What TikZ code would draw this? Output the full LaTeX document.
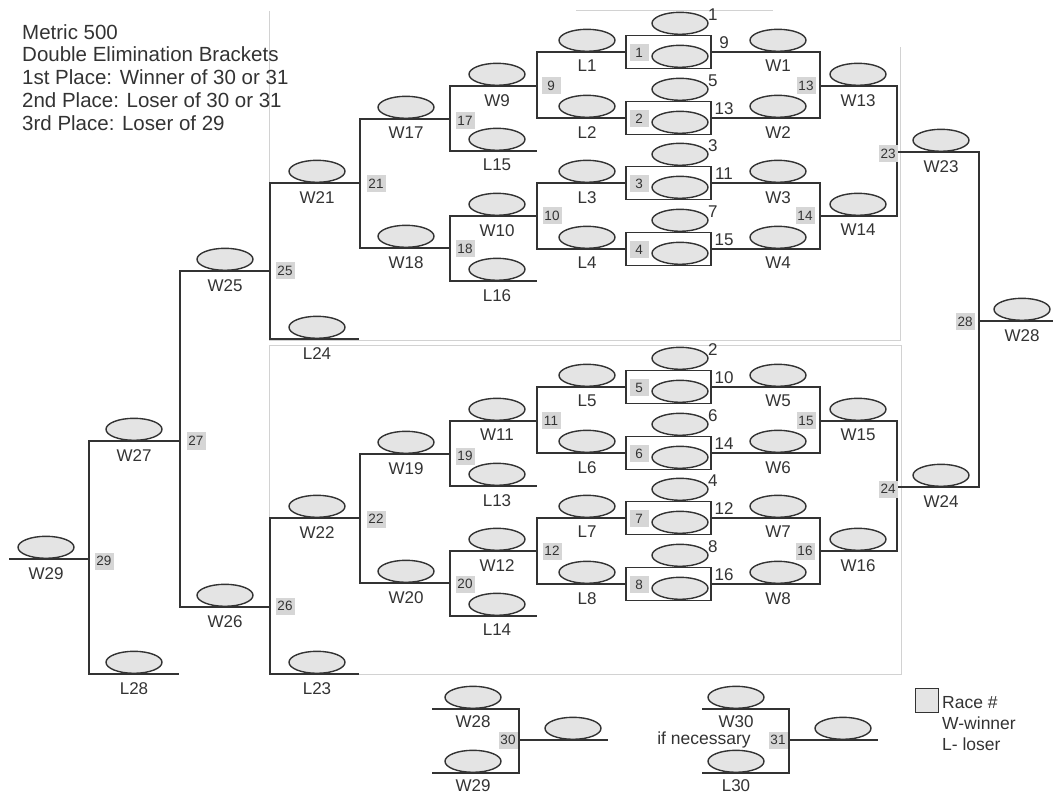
\documentclass[tikz,border=0pt]{standalone}
\usepackage{fontspec}
\setmainfont{Liberation Sans}
\usepackage {tikz}
\usetikzlibrary {positioning}
\usetikzlibrary{shapes.geometric}
\definecolor{ink}{HTML}{333333}
\definecolor{seatgray}{HTML}{E4E4E4}
\definecolor{racegray}{HTML}{D6D6D6}
\definecolor{framegray}{HTML}{D2D2D2}
\tikzset{bar/.style = {draw=ink, line width=1.8pt, line cap=rect}}
\newcommand{\seatline}[7][8]{%
  \coordinate (#2-w) at (#3,#6);
  \coordinate (#2-e) at (#4,#6);
  \draw[bar] (#2-w) -- (#2-e);
  \node[seat] (#2) at (#5,#6) {};
  \node[tag] (#2-t) at (#5,#6+#1) {#7};
}
\newcommand{\heatbox}[5]{%
  \node[heat] (#1) at (668.5,#2) {};
  \node[seat] (#1-in) at (680,#2+16) {};
  \node[seat] (#1-up) at (680,#2-17) {};
  \node[race] (#1-r) at (639,#2+0.5) {#3};
  \node[num, anchor=west] (#1-n) at (708,#2-37.5) {#4};
  \node[num] (#1-s) at (724,#2-9.5) {#5};
}

\begin{document}
\begin{tikzpicture}[x=1pt, y=-1pt,
    seat/.style={ellipse, draw=ink, fill=seatgray, line width=1.4pt, minimum width=56pt, minimum height=22pt, inner sep=0pt, anchor=south},
    tag/.style={anchor=north, inner sep=0pt, text=ink, font=\fontsize{17}{17}\selectfont},
    num/.style={inner sep=0pt, text=ink, font=\fontsize{17}{17}\selectfont},
    note/.style={inner sep=0pt, text=ink, font=\fontsize{17.5}{21}\selectfont},
    race/.style={fill=racegray, text=ink, inner sep=0pt, minimum width=19pt, minimum height=17pt, font=\fontsize{13.5}{13.5}\selectfont},
    heat/.style={draw=ink, line width=1.8pt, minimum width=85pt, minimum height=33pt, inner sep=0pt},
    frame/.style={draw=framegray, line width=0.8pt}]
            \useasboundingbox (0,0) rectangle (1053,794);
            \draw[frame] (269,11) -- (269,340) -- (900,340) -- (900,47);
            \draw[frame] (576,10) -- (773,10);
            \draw[frame] (269,345) rectangle (901,674);

            \node[anchor=north west, inner sep=0pt, align=left, text=ink, font=\fontsize{20.5}{22.9}\selectfont] (title) at (22,24)
                {Metric 500\\Double Elimination Brackets\\1st Place: Winner of 30 or 31\\2nd Place: Loser of 30 or 31\\3rd Place: Loser of 29};

            \seatline{L1}{537}{626}{587}{52}{L1}
            \seatline{L2}{537}{626}{587}{118}{L2}
            \seatline{L3}{537}{626}{587}{183}{L3}
            \seatline{L4}{537}{626}{587}{249}{L4}
            \seatline{W1}{711}{820}{778}{52}{W1}
            \seatline{W2}{711}{820}{778}{118}{W2}
            \seatline{W3}{711}{820}{778}{183}{W3}
            \seatline{W4}{711}{820}{778}{249}{W4}
            \seatline{W13}{820}{897}{858}{86}{W13}
            \seatline{W14}{820}{897}{858}{216}{W14}
            \seatline{W23}{897}{979}{941}{152}{W23}
            \seatline{W9}{450}{537}{497}{86}{W9}
            \seatline{L15}{450}{536}{497}{151}{L15}
            \seatline{W10}{450}{537}{497}{216}{W10}
            \seatline{L16}{450}{536}{497}{281}{L16}
            \seatline{W17}{360}{450}{406}{119}{W17}
            \seatline{W18}{360}{450}{406}{248}{W18}
            \seatline{W21}{270}{360}{317}{183}{W21}
            \seatline{L24}{270}{358}{317}{339}{L24}
            \seatline{W25}{180}{270}{225}{271}{W25}

            \seatline{L5}{537}{626}{587}{387}{L5}
            \seatline{L6}{537}{626}{587}{453}{L6}
            \seatline{L7}{537}{626}{587}{518}{L7}
            \seatline{L8}{537}{626}{587}{584}{L8}
            \seatline{W5}{711}{820}{778}{387}{W5}
            \seatline{W6}{711}{820}{778}{453}{W6}
            \seatline{W7}{711}{820}{778}{518}{W7}
            \seatline{W8}{711}{820}{778}{584}{W8}
            \seatline{W15}{820}{897}{858}{421}{W15}
            \seatline{W16}{820}{897}{858}{551}{W16}
            \seatline{W24}{897}{979}{941}{487}{W24}
            \seatline{W11}{450}{537}{497}{421}{W11}
            \seatline{L13}{450}{536}{497}{486}{L13}
            \seatline{W12}{450}{537}{497}{551}{W12}
            \seatline{L14}{450}{536}{497}{616}{L14}
            \seatline{W19}{360}{450}{406}{454}{W19}
            \seatline{W20}{360}{450}{406}{583}{W20}
            \seatline{W22}{270}{360}{317}{518}{W22}
            \seatline{L23}{270}{358}{317}{674}{L23}
            \seatline{W26}{180}{270}{225}{607}{W26}

            \seatline{W27}{89}{180}{134}{441}{W27}
            \seatline{W29}{10}{89}{46}{559}{W29}
            \seatline{L28}{89}{178}{134}{674}{L28}
            \seatline{W28}{979}{1052}{1022}{321}{W28}

            \seatline[6]{fin28}{433}{519}{473}{709}{W28}
            \seatline[6]{fin29}{433}{519}{473}{773}{W29}
            \seatline{out30}{519}{607}{573}{740}{}
            \seatline[6]{W30}{703}{789}{736}{709}{W30}
            \seatline[6]{L30}{703}{789}{736}{773}{L30}
            \seatline{out31}{789}{877}{843}{740}{}

            \heatbox{h1}{52}{1}{1}{9}
            \heatbox{h2}{118}{2}{5}{13}
            \heatbox{h3}{183}{3}{3}{11}
            \heatbox{h4}{249}{4}{7}{15}
            \heatbox{h5}{387}{5}{2}{10}
            \heatbox{h6}{453}{6}{6}{14}
            \heatbox{h7}{518}{7}{4}{12}
            \heatbox{h8}{584}{8}{8}{16}

            \draw[bar] (L1-w) -- (L2-w);
            \draw[bar] (L3-w) -- (L4-w);
            \draw[bar] (W1-e) -- (W2-e);
            \draw[bar] (W3-e) -- (W4-e);
            \draw[bar] (W9-w) -- (L15-w);
            \draw[bar] (W10-w) -- (L16-w);
            \draw[bar] (W17-w) -- (W18-w);
            \draw[bar] (W13-e) -- (W14-e);
            \draw[bar] (W21-w) -- (L24-w);
            \draw[bar] (L5-w) -- (L6-w);
            \draw[bar] (L7-w) -- (L8-w);
            \draw[bar] (W5-e) -- (W6-e);
            \draw[bar] (W7-e) -- (W8-e);
            \draw[bar] (W11-w) -- (L13-w);
            \draw[bar] (W12-w) -- (L14-w);
            \draw[bar] (W19-w) -- (W20-w);
            \draw[bar] (W15-e) -- (W16-e);
            \draw[bar] (W22-w) -- (L23-w);
            \draw[bar] (W25-w) -- (W26-w);
            \draw[bar] (W23-e) -- (W24-e);
            \draw[bar] (W27-w) -- (L28-w);
            \draw[bar] (fin28-e) -- (fin29-e);
            \draw[bar] (W30-e) -- (L30-e);

            \node[race] (r9) at (551,86) {9};
            \node[race] (r10) at (552,216) {10};
            \node[race] (r13) at (806,86) {13};
            \node[race] (r14) at (805,216) {14};
            \node[race] (r17) at (465,121) {17};
            \node[race] (r18) at (465,249) {18};
            \node[race] (r21) at (376,184) {21};
            \node[race] (r23) at (888,154) {23};
            \node[race] (r25) at (285,271) {25};
            \node[race] (r11) at (551,421) {11};
            \node[race] (r12) at (552,551) {12};
            \node[race] (r15) at (806,421) {15};
            \node[race] (r16) at (805,551) {16};
            \node[race] (r19) at (465,456) {19};
            \node[race] (r20) at (465,584) {20};
            \node[race] (r22) at (376,519) {22};
            \node[race] (r24) at (888,489) {24};
            \node[race] (r26) at (285,606) {26};
            \node[race] (r27) at (196,441) {27};
            \node[race] (r28) at (965,322) {28};
            \node[race] (r29) at (104,561) {29};
            \node[race] (r30) at (508,740) {30};
            \node[race] (r31) at (778,740) {31};

            \node[note, anchor=base] (ifnec) at (704,744) {if necessary};
            \node[draw=ink, fill=seatgray, line width=1pt, minimum width=23pt, minimum height=24pt, inner sep=0pt] (key) at (927,700.5) {};
            \node[note, anchor=north west, align=left] (keytext) at (942,696) {Race \#\\W-winner\\L- loser};
        \end{tikzpicture}
\end{document}
